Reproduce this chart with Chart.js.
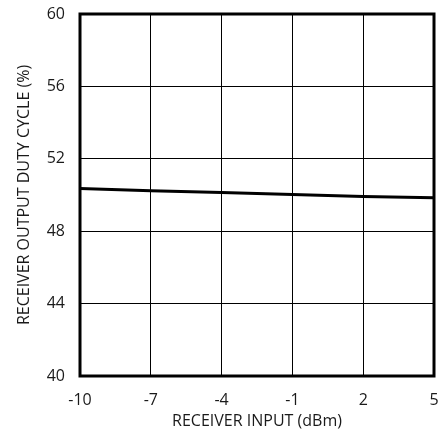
<!DOCTYPE html>
<html>
<head>
<meta charset="utf-8">
<script src="https://cdn.jsdelivr.net/npm/chart.js@4.4.0/dist/chart.umd.min.js"></script>
<style>
  html, body { margin: 0; padding: 0; background: #fff; }
  #wrap { width: 443px; height: 432px; }
</style>
</head>
<body>
<div id="wrap"><canvas id="myChart" width="443" height="432"></canvas></div>
<script>
// Receiver input power (dBm) vs output duty cycle (%)
const inputDbm = [-10, -7, -4, -1, 2, 5];
const dutyCycle = [50.36, 50.24, 50.14, 50.03, 49.92, 49.85];

const xTicks = [-10, -7, -4, -1, 2, 5];
const yTicks = [40, 44, 48, 52, 56, 60];

// thick frame around the plot area
const frame = {
    id: 'frame',
    afterDraw(chart) {
        const a = chart.chartArea;
        const ctx = chart.ctx;
        ctx.save();
        ctx.strokeStyle = '#000';
        ctx.lineWidth = 3;
        ctx.strokeRect(a.left, a.top, a.right - a.left, a.bottom - a.top);
        ctx.restore();
    }
};

const font = { family: '"Open Sans", "Noto Sans", sans-serif', size: 16 };

new Chart(document.getElementById('myChart').getContext('2d'), {
    type: 'line',
    data: {
        datasets: [{
            data: inputDbm.map((x, i) => ({ x: x, y: dutyCycle[i] })),
            borderColor: '#000',
            borderWidth: 3,
            pointRadius: 0,
            fill: false,
            tension: 0
        }]
    },
    options: {
        responsive: false,
        animation: false,
        layout: { padding: { top: 14, right: 9, left: 15, bottom: 0 } },
        plugins: { legend: { display: false }, tooltip: { enabled: false } },
        scales: {
            x: {
                type: 'linear',
                min: -10,
                max: 5,
                afterBuildTicks: axis => { axis.ticks = xTicks.map(v => ({ value: v })); },
                afterFit: axis => { axis.height = 56; axis.paddingLeft = 0; axis.paddingRight = 0; },
                grid: { color: '#000', lineWidth: 1, drawTicks: false },
                border: { display: false },
                ticks: { color: '#1a1a1a', font: font, padding: 15, maxRotation: 0 },
                title: { display: true, text: 'RECEIVER INPUT (dBm)', color: '#1a1a1a', font: font, padding: { top: 0, bottom: 1 } }
            },
            y: {
                min: 40,
                max: 60,
                afterBuildTicks: axis => { axis.ticks = yTicks.map(v => ({ value: v })); },
                afterFit: axis => { axis.width = 65; axis.paddingTop = 0; axis.paddingBottom = 0; },
                grid: { color: '#000', lineWidth: 1, drawTicks: false },
                border: { display: false },
                ticks: { color: '#1a1a1a', font: font, padding: 15 },
                title: { display: true, text: 'RECEIVER OUTPUT DUTY CYCLE (%)', color: '#1a1a1a', font: font, padding: { top: 0, bottom: 4 } }
            }
        }
    },
    plugins: [frame]
});
</script>
</body>
</html>
